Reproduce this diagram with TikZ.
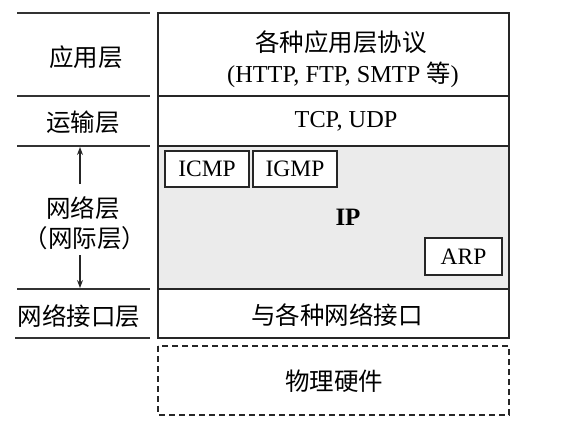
\documentclass[tikz,border=0pt]{standalone}
\usepackage{fontspec}
\setmainfont{Liberation Serif}
\newfontfamily\cjk{Noto Sans CJK SC}
\usetikzlibrary{arrows.meta}
\tikzset{
  frame/.style={draw=black!85, line width=1.6pt},
  sep/.style={draw=black!80, line width=1.3pt},
  smallbox/.style={draw=black!85, line width=1.4pt, fill=white},
  cn/.style={font=\cjk\fontsize{24.5}{28}\selectfont, inner sep=0pt},
  lt/.style={font=\fontsize{24.3}{28}\selectfont, inner sep=0pt},
  lts/.style={font=\fontsize{23.5}{28}\selectfont, inner sep=0pt},
  updown/.style={draw=black!85, line width=1.1pt, -{Stealth[length=8pt,width=6pt]}},
}
\begin{document}
\begin{tikzpicture}[x=1pt,y=-1pt]
\useasboundingbox (0,0) rectangle (564,432);
% gray IP region
\fill[gray!16] (158,146) rectangle (509,289);
% main frame
\draw[frame] (158,13) rectangle (509,338);
\draw[frame] (158,96) -- (509,96);
\draw[frame] (158,146) -- (509,146);
\draw[frame] (158,289) -- (509,289);
% physical hardware dashed box
\draw[draw=black!85, line width=1.4pt, dash pattern=on 6pt off 4pt] (158,346) rectangle (509,415);
% left separators
\draw[sep] (17,13) -- (150,13);
\draw[sep] (17,96) -- (150,96);
\draw[sep] (17,146) -- (150,146);
\draw[sep] (17,289) -- (150,289);
\draw[sep] (15,338) -- (150,338);
% left labels
\node[cn] (app) at (86,57) {应用层};
\node[cn] (tra) at (83,122) {运输层};
\node[cn] (net1) at (83,208) {网络层};
\node[cn] (net2) at (85,238) {（网际层）};
\node[cn] (lnk) at (79,316) {网络接口层};
\coordinate (upend) at (80,147);
\coordinate (downend) at (80,288);
\coordinate (upstart) at (80,184);
\coordinate (downstart) at (80,255);
\draw[updown] (upstart) -- (upend);
\draw[updown] (downstart) -- (downend);
% right contents
\node[cn] (appt) at (341,42) {各种应用层协议};
\node[lt] (appp) at (343,75) {(HTTP, FTP, SMTP {\cjk 等})};
\node[lt] (tcp) at (346,121) {TCP, UDP};
\node[font=\bfseries\fontsize{25}{28}\selectfont, inner sep=0pt] (ip) at (348,217) {IP};
\node[smallbox, minimum width=84pt, minimum height=36pt, lts] (icmp) at (207,169) {ICMP};
\node[smallbox, minimum width=84pt, minimum height=36pt, lts] (igmp) at (295,169) {IGMP};
\node[smallbox, minimum width=77pt, minimum height=37pt, lts] (arp) at (463.5,256.5) {ARP};
\node[cn] (ifc) at (337,315) {与各种网络接口};
\node[cn] (phy) at (334,381) {物理硬件};
\end{tikzpicture}
\end{document}
